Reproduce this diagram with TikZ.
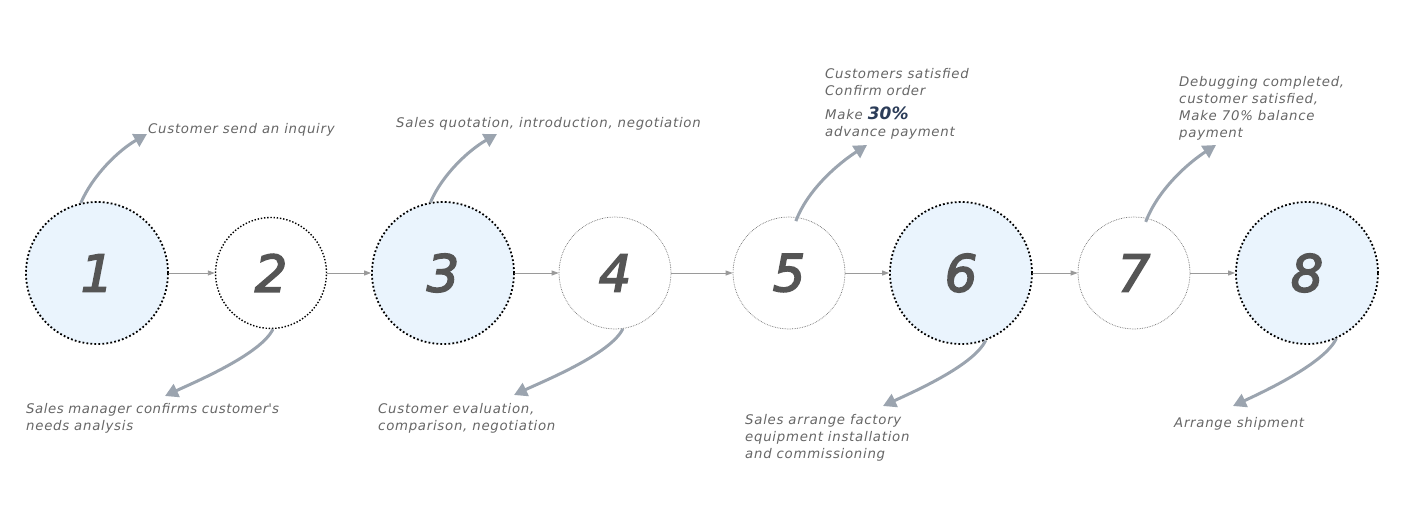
\documentclass[tikz,border=0pt]{standalone}
\usepackage{fontspec}
\setmainfont{DejaVu Sans}[LetterSpace=5.5]
\newfontfamily\numfont{DejaVu Sans Oblique}[FakeBold=3.2]
\usetikzlibrary{arrows.meta}
\definecolor{numgray}{HTML}{555555}
\definecolor{txtgray}{HTML}{666666}
\definecolor{fillblue}{HTML}{EAF4FD}
\definecolor{curvecol}{HTML}{9BA4AF}
\definecolor{linkgray}{HTML}{9A9A9A}
\definecolor{navy}{HTML}{2B3C58}
\definecolor{thingray}{HTML}{6E6E6E}
\tikzset{
  bigcirc/.style={circle, minimum size=142pt, inner sep=0pt, fill=fillblue, draw=black, line width=1.8pt, dash pattern=on 1.8pt off 2.2pt},
  midcirc/.style={circle, minimum size=111pt, inner sep=0pt, fill=white, draw=black, line width=1.4pt, dash pattern=on 1.4pt off 1.8pt},
  thincirc/.style={circle, minimum size=112pt, inner sep=0pt, fill=white, draw=thingray, line width=0.7pt, dash pattern=on 0.7pt off 1.0pt},
  num/.style={font=\numfont\fontsize{51}{51}\selectfont, text=numgray},
  link/.style={draw=linkgray, line width=0.9pt, -{Triangle[length=7pt,width=5pt]}},
  curve/.style={draw=curvecol, line width=3pt, -{Triangle[length=13pt,width=14pt]}},
  lbl/.style={font=\itshape\fontsize{13.3}{17}\selectfont, text=txtgray, align=left, inner sep=0pt, anchor=north west},
}
\begin{document}
\begin{tikzpicture}[x=1pt,y=-1pt]
\useasboundingbox (0,0) rectangle (1405,522);
\node[bigcirc] (c1) at (97,273) {};
\node[midcirc] (c2) at (271,273) {};
\node[bigcirc] (c3) at (443,273) {};
\node[thincirc] (c4) at (615,273) {};
\node[thincirc] (c5) at (789,273) {};
\node[bigcirc] (c6) at (961,273) {};
\node[thincirc] (c7) at (1134,273) {};
\node[bigcirc] (c8) at (1307,273) {};
\foreach \i in {1,...,8} {\node[num] (n\i) at ([yshift=0pt]c\i.center) {\i};}
\draw[link] (c1.east) -- (c2.west);
\draw[link] (c2.east) -- (c3.west);
\draw[link] (c3.east) -- (c4.west);
\draw[link] (c4.east) -- (c5.west);
\draw[link] (c5.east) -- (c6.west);
\draw[link] (c6.east) -- (c7.west);
\draw[link] (c7.east) -- (c8.west);
% labels
\node[lbl] (l1) at (148,123) {Customer send an inquiry};
\node[lbl] (l2) at (26,403) {\addfontfeature{LetterSpace=4}Sales manager confirms customer\textquotesingle s\\needs analysis};
\node[lbl] (l3) at (396,117) {Sales quotation, introduction, negotiation};
\node[lbl] (l4) at (378,403) {Customer evaluation,\\comparison, negotiation};
\node[lbl] (l5) at (825,68) {Customers satisfied\\Confirm order\\[7pt]Make {\addfontfeature{LetterSpace=0}\bfseries\fontsize{17}{17}\selectfont\color{navy}30\%}\\advance payment};
\node[lbl] (l6) at (745,414) {Sales arrange factory\\equipment installation\\and commissioning};
\node[lbl] (l7) at (1179,76) {Debugging completed,\\customer satisfied,\\Make 70\% balance\\payment};
\node[lbl] (l8) at (1174,417) {Arrange shipment};
% curved arrows
\coordinate (t1) at (147,134);
\coordinate (t2) at (165,396);
\coordinate (t3) at (497,134);
\coordinate (t4) at (514,395);
\coordinate (t5) at (867,145);
\coordinate (t6) at (883,406);
\coordinate (t7) at (1216,145);
\coordinate (t8) at (1233,406);
\draw[curve] (c1.103) .. controls +(12,-28) and +(-28,16) .. (t1);
\draw[curve] (c2.-88) .. controls +(-12,25) and +(30,-14) .. (t2);
\draw[curve] (c3.100) .. controls +(12,-28) and +(-28,16) .. (t3);
\draw[curve] (c4.-82) .. controls +(-12,25) and +(30,-14) .. (t4);
\draw[curve] ([yshift=-4pt]c5.83) .. controls +(12,-32) and +(-28,18) .. (t5);
\draw[curve] (c6.-70) .. controls +(-12,25) and +(30,-14) .. (t6);
\draw[curve] ([yshift=-4pt]c7.78) .. controls +(12,-32) and +(-28,18) .. (t7);
\draw[curve] (c8.-66) .. controls +(-12,25) and +(30,-14) .. (t8);
\end{tikzpicture}
\end{document}
